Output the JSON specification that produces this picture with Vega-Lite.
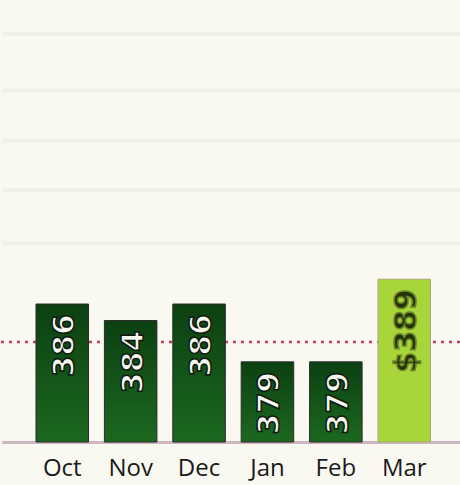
{
  "$schema": "https://vega.github.io/schema/vega-lite/v6.json",
  "width": 460,
  "height": 442,
  "autosize": "none",
  "padding": {"left": 0, "top": 0, "right": 0, "bottom": 43},
  "background": "#FAF9F1",
  "config": {"view": {"stroke": null, "fill": "#FAF9F1"}},
  "data": {"values": [
    {"month": "Oct", "value": 386, "label": "386"},
    {"month": "Nov", "value": 384, "label": "384"},
    {"month": "Dec", "value": 386, "label": "386"},
    {"month": "Jan", "value": 379, "label": "379"},
    {"month": "Feb", "value": 379, "label": "379"},
    {"month": "Mar", "value": 389, "label": "$389"}
  ]},
  "encoding": {
    "x": {
      "field": "month", "type": "ordinal", "sort": null,
      "scale": {"paddingInner": 0.232, "paddingOuter": 0.5, "range": [1.8, 464.7]},
      "axis": {
        "title": null, "labelAngle": 0, "labelFont": "Open Sans", "labelFontSize": 24,
        "labelFontWeight": "normal",
        "labelColor": "#1A1A1A", "ticks": false, "labelPadding": 14,
        "domainColor": "#CDB8BF", "domainWidth": 3, "grid": false
      }
    }
  },
  "layer": [
    {
      "data": {"values": [{"ref": 381.4}]},
      "mark": {"type": "rule", "color": "#C0405A", "strokeWidth": 2.5, "strokeDash": [3, 5]},
      "encoding": {
        "x": null,
        "y": {"field": "ref", "type": "quantitative",
          "scale": {"domain": [369.3, 422.8], "zero": false, "nice": false},
          "axis": {"title": null, "labels": false, "ticks": false, "domain": false,
            "values": [393.4, 399.8, 405.9, 411.9, 418.8],
            "gridColor": "#F0F0EA", "gridWidth": 4}}
      }
    },
    {
      "mark": {"type": "bar", "strokeWidth": 1},
      "encoding": {
        "y": {"field": "value", "type": "quantitative"},
        "y2": {"datum": 369.3},
        "color": {
          "condition": {"test": "datum.month === 'Mar'", "value": "#A8D53A"},
          "value": {"gradient": "linear", "x1": 0, "y1": 0, "x2": 0, "y2": 1,
            "stops": [{"offset": 0, "color": "#0C4011"}, {"offset": 1, "color": "#1C6820"}]}
        },
        "stroke": {
          "condition": {"test": "datum.month === 'Mar'", "value": "#A9A878"},
          "value": "#2A2A2A"
        }
      }
    },
    {
      "mark": {"type": "text", "angle": 270, "align": "right", "baseline": "middle",
        "dx": -10, "dy": 3, "font": "DejaVu Sans", "fontWeight": "bold", "fontSize": 30,
        "strokeWidth": 1.5},
      "encoding": {
        "y": {"field": "value", "type": "quantitative"},
        "text": {"field": "label"},
        "color": {
          "condition": {"test": "datum.month === 'Mar'", "value": "#25330A"},
          "value": "#F4F8EE"
        },
        "stroke": {
          "condition": {"test": "datum.month === 'Mar'", "value": "#6E8A28"},
          "value": "#101810"
        }
      }
    }
  ]
}
